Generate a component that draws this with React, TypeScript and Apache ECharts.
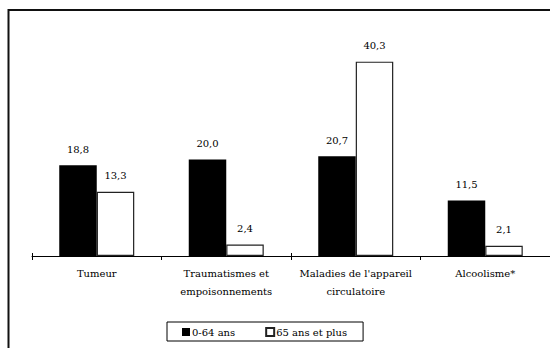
import React, { useEffect, useRef } from "react";
import * as echarts from "echarts";

const categories = [
  "Tumeur",
  "Traumatismes et\nempoisonnements",
  "Maladies de l'appareil\ncirculatoire",
  "Alcoolisme*",
];
const seriesNames = ["0-64 ans", "65 ans et plus"];
const youngValues = [18.8, 20.0, 20.7, 11.5];
const oldValues = [13.3, 2.4, 40.3, 2.1];

const FONT = "DejaVu Serif";

export default function App() {
  const ref = useRef<HTMLDivElement>(null);
  useEffect(() => {
    if (!ref.current) return;
    const chart = echarts.init(ref.current, null, { renderer: "svg" });
    const fmt = (p: any) => Number(p.value).toFixed(1).replace(".", ",");
    const labelStyle = {
      show: true,
      position: "top",
      distance: 11,
      formatter: fmt,
      color: "#000",
      fontFamily: FONT,
      fontSize: 10,
    };
    chart.setOption({
      animation: false,
      backgroundColor: "#fff",
      textStyle: { fontFamily: FONT },
      graphic: [
        {
          type: "rect",
          shape: { x: 8.5, y: 10, width: 700, height: 500 },
          style: { fill: "none", stroke: "#111", lineWidth: 2 },
          silent: true,
        },
      ],
      legend: {
        data: seriesNames,
        left: 167,
        top: 322,
        padding: [5, 16, 4, 15],
        itemWidth: 8,
        itemHeight: 8,
        itemGap: 30,
        borderColor: "#000",
        borderWidth: 1,
        icon: "rect",
        textStyle: {
          fontFamily: FONT,
          fontSize: 10,
          color: "#000",
          padding: [0, 0, 0, -3],
        },
      },
      grid: { left: 32, top: 39, width: 523, height: 217 },
      xAxis: [
        {
          type: "category",
          data: categories,
          axisLine: { show: true, lineStyle: { color: "#000", width: 1 } },
          axisTick: { show: true, length: 4, lineStyle: { color: "#000" } },
          axisLabel: {
            interval: 0,
            margin: 8,
            color: "#000",
            fontFamily: FONT,
            fontSize: 10,
            lineHeight: 18,
          },
        },
        {
          type: "category",
          data: categories,
          position: "bottom",
          axisLine: { show: false },
          axisTick: { show: true, inside: true, length: 3, lineStyle: { color: "#000" } },
          axisLabel: { show: false },
        },
      ],
      yAxis: {
        type: "value",
        min: 0,
        max: 45,
        show: false,
        splitLine: { show: false },
      },
      series: [
        {
          name: seriesNames[0],
          type: "bar",
          data: youngValues,
          barWidth: 37.5,
          barGap: "0%",
          itemStyle: { color: "#000" },
          label: labelStyle,
        },
        {
          name: seriesNames[1],
          type: "bar",
          data: oldValues,
          barWidth: 37.5,
          barGap: "0%",
          itemStyle: { color: "#fff", borderColor: "#222", borderWidth: 1.2 },
          label: labelStyle,
        },
      ],
    });
    return () => chart.dispose();
  }, []);
  return (
    <div
      ref={ref}
      style={{ position: "absolute", left: 0, top: 0, width: 550, height: 348 }}
    />
  );
}
